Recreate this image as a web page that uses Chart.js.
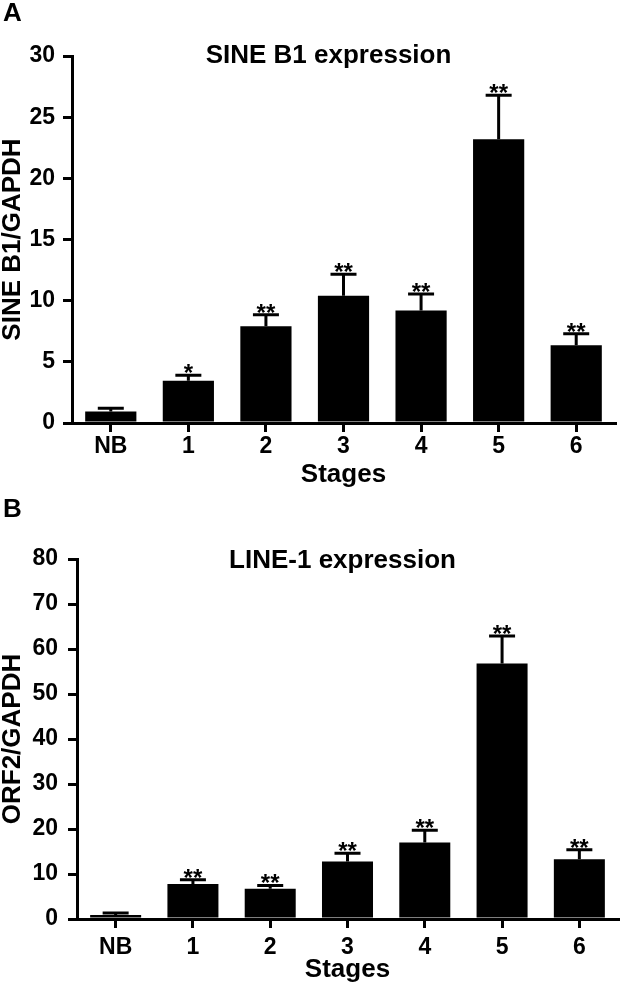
<!DOCTYPE html>
<html>
<head>
<meta charset="utf-8">
<script src="https://cdn.jsdelivr.net/npm/chart.js@4.4.0/dist/chart.umd.min.js"></script>
<style>
    body { margin: 0; background: #fff; width: 621px; height: 985px; position: relative; overflow: hidden; }
    canvas { position: absolute; left: 0; }
    .tag { position: absolute; left: 3px; font: bold 26px "Liberation Sans", Arial, sans-serif; line-height: 1; color: #000; }
</style>
</head>
<body>
<canvas id="chartA" width="621" height="490" style="top:0"></canvas>
<canvas id="chartB" width="621" height="495" style="top:490px"></canvas>
<div class="tag" style="top:-1px">A</div>
<div class="tag" style="top:495px">B</div>
<script>
// data
const stages = ["NB", "1", "2", "3", "4", "5", "6"];

const sineMean = [0.95, 3.45, 7.9, 10.4, 9.2, 23.2, 6.35];
const sineErr = [0.25, 0.45, 0.95, 1.75, 1.35, 3.6, 0.95];
const sineStars = ["", "*", "**", "**", "**", "**", "**"];

const orfMean = [0.9, 7.8, 6.7, 12.8, 17.0, 56.8, 13.3];
const orfErr = [0.45, 0.9, 0.75, 1.8, 2.7, 6.1, 2.1];
const orfStars = ["", "**", "**", "**", "**", "**", "**"];

const FONT = '"Liberation Sans", Arial, sans-serif';
const tickFont = { family: FONT, size: 23, weight: "bold" };

// error bars (upper only), stars and the panel title
const overlay = (means, errs, stars, title, titleDx, titleDy) => ({
    id: "overlay",
    afterDatasetsDraw(chart) {
        const ctx = chart.ctx;
        const y = chart.scales.y;
        const area = chart.chartArea;
        ctx.save();
        ctx.strokeStyle = "#000";
        ctx.fillStyle = "#000";
        ctx.lineWidth = 3;
        ctx.textAlign = "center";
        ctx.font = "bold 24px " + FONT;
        chart.getDatasetMeta(0).data.forEach((bar, i) => {
            const top = y.getPixelForValue(means[i] + errs[i]);
            ctx.beginPath();
            ctx.moveTo(bar.x, bar.y);
            ctx.lineTo(bar.x, top);
            ctx.moveTo(bar.x - 13, top);
            ctx.lineTo(bar.x + 13, top);
            ctx.stroke();
            if (stars[i]) {
                ctx.textBaseline = "alphabetic";
                ctx.fillText(stars[i], bar.x, top + 6);
            }
        });
        ctx.font = "bold 26px " + FONT;
        ctx.textBaseline = "middle";
        ctx.fillText(title, (area.left + area.right) / 2 + titleDx, area.top + titleDy);
        ctx.restore();
    }
});

function makeChart(id, o) {
    return new Chart(document.getElementById(id), {
        type: "bar",
        data: {
            labels: stages,
            datasets: [{
                data: o.means,
                backgroundColor: "#000",
                borderWidth: 0,
                barPercentage: 0.66,
                categoryPercentage: 1
            }]
        },
        options: {
            responsive: false,
            animation: false,
            events: [],
            layout: { padding: { top: o.top, right: o.right, bottom: 0, left: 0 } },
            plugins: { legend: { display: false }, tooltip: { enabled: false } },
            scales: {
                x: {
                    grid: { offset: false, drawOnChartArea: false, drawTicks: true, tickLength: 9, lineWidth: 3, color: "#000" },
                    border: { display: true, width: 3, color: "#000" },
                    ticks: { color: "#000", font: tickFont, padding: o.xPad, autoSkip: false, maxRotation: 0 },
                    title: {
                        display: true, text: "Stages", color: "#000",
                        font: { family: FONT, size: 26, weight: "bold", lineHeight: 1.2 },
                        padding: { top: 0, bottom: 0 }
                    },
                    afterFit: s => { s.height = o.xh; }
                },
                y: {
                    min: 0,
                    max: o.max,
                    ticks: { stepSize: o.step, color: "#000", font: tickFont, padding: o.yPad },
                    grid: { drawOnChartArea: false, drawTicks: true, tickLength: 9, lineWidth: 3, color: "#000" },
                    border: { display: true, width: 3, color: "#000" },
                    title: {
                        display: true, text: o.ylabel, color: "#000",
                        font: { family: FONT, size: 26, weight: "bold", lineHeight: 0.95 },
                        padding: 0
                    },
                    afterFit: s => { s.width = o.yw; }
                }
            }
        },
        plugins: [overlay(o.means, o.errs, o.stars, o.title, o.titleDx, o.titleDy)]
    });
}

makeChart("chartA", {
    means: sineMean, errs: sineErr, stars: sineStars,
    title: "SINE B1 expression", titleDx: -15, titleDy: 0,
    ylabel: "SINE B1/GAPDH", max: 30, step: 5,
    top: 56, right: 6, yw: 72, xh: 67, xPad: 1, yPad: 8
});

makeChart("chartB", {
    means: orfMean, errs: orfErr, stars: orfStars,
    title: "LINE-1 expression", titleDx: -5, titleDy: 2,
    ylabel: "ORF2/GAPDH", max: 80, step: 10,
    top: 69, right: 3, yw: 77, xh: 66, xPad: 6, yPad: 10
});
</script>
</body>
</html>
